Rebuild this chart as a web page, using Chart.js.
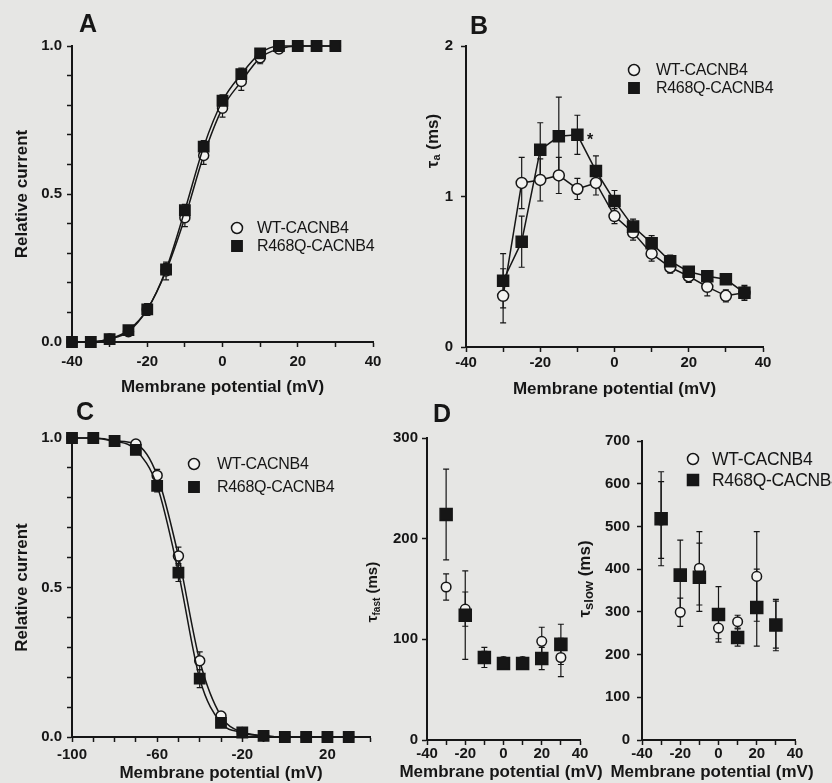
<!DOCTYPE html>
<html>
<head>
<meta charset="utf-8">
<script src="https://cdn.jsdelivr.net/npm/chart.js@4"></script>
<style>
  body { margin: 0; width: 832px; height: 783px; overflow: hidden; position: relative; background: #e6e6e4; }
  .box { position: absolute; }
  .tag { position: absolute; font: bold 25px 'Liberation Sans', Arial, sans-serif; line-height: 1; color: #161616; z-index: 5; }
</style>
</head>
<body>
<div class="box" style="left:0;top:0;width:400px;height:400px"><canvas id="chartA"></canvas></div>
<div class="box" style="left:400px;top:0;width:432px;height:400px"><canvas id="chartB"></canvas></div>
<div class="box" style="left:0;top:392px;width:400px;height:391px"><canvas id="chartC"></canvas></div>
<div class="box" style="left:360px;top:392px;width:250px;height:400px"><canvas id="chartD1"></canvas></div>
<div class="box" style="left:570px;top:392px;width:262px;height:400px"><canvas id="chartD2"></canvas></div>
<div class="tag" style="left:79px;top:11px">A</div>
<div class="tag" style="left:470px;top:13px">B</div>
<div class="tag" style="left:76px;top:399px">C</div>
<div class="tag" style="left:433px;top:401px">D</div>
<script>
// data
const aVolt = [-40, -35, -30, -25, -20, -15, -10, -5, 0, 5, 10, 15, 20, 25, 30];
const aWT = [0, 0, 0.01, 0.035, 0.11, 0.24, 0.42, 0.63, 0.79, 0.88, 0.96, 0.99, 1.0, 1.0, 1.0];
const aWTErr = [0.005, 0.005, 0.01, 0.01, 0.02, 0.03, 0.03, 0.03, 0.03, 0.03, 0.02, 0.01, 0.005, 0.005, 0.005];
const aR468Q = [0, 0, 0.01, 0.04, 0.11, 0.245, 0.445, 0.66, 0.815, 0.905, 0.975, 1.0, 1.0, 1.0, 1.0];
const aR468QErr = [0.005, 0.005, 0.005, 0.01, 0.02, 0.02, 0.02, 0.02, 0.02, 0.02, 0.01, 0.005, 0.005, 0.005, 0.005];

const bVolt = [-30, -25, -20, -15, -10, -5, 0, 5, 10, 15, 20, 25, 30, 35];
const bWT = [0.34, 1.09, 1.11, 1.14, 1.05, 1.09, 0.87, 0.76, 0.62, 0.53, 0.47, 0.40, 0.34, 0.36];
const bWTErr = [0.18, 0.17, 0.14, 0.12, 0.07, 0.08, 0.05, 0.05, 0.05, 0.04, 0.04, 0.06, 0.04, 0.04];
const bR468Q = [0.44, 0.70, 1.31, 1.40, 1.41, 1.17, 0.97, 0.80, 0.69, 0.57, 0.50, 0.47, 0.45, 0.36];
const bR468QErr = [0.18, 0.17, 0.18, 0.26, 0.13, 0.10, 0.07, 0.05, 0.05, 0.04, 0.03, 0.03, 0.03, 0.05];

const cVolt = [-100, -90, -80, -70, -60, -50, -40, -30, -20, -10, 0, 10, 20, 30];
const cWT = [1.0, 1.0, 0.99, 0.98, 0.875, 0.605, 0.255, 0.07, 0.015, 0.004, 0, 0, 0, 0];
const cWTErr = [0.005, 0.005, 0.005, 0.01, 0.02, 0.03, 0.03, 0.015, 0.005, 0.005, 0.005, 0.005, 0.005, 0.005];
const cR468Q = [1.0, 1.0, 0.99, 0.96, 0.84, 0.55, 0.195, 0.047, 0.015, 0.004, 0, 0, 0, 0];
const cR468QErr = [0.005, 0.005, 0.005, 0.01, 0.02, 0.03, 0.03, 0.015, 0.005, 0.005, 0.005, 0.005, 0.005, 0.005];

const dVolt = [-30, -20, -10, 0, 10, 20, 30];
const dFastWT = [152, 130, 83, 78, 78, 98, 82];
const dFastWTErr = [13, 17, 5, 4, 4, 14, 19];
const dFastR468Q = [224, 124, 82, 76, 76, 81, 95];
const dFastR468QErr = [45, 44, 10, 5, 5, 11, 20];
const dSlowWT = [515, 299, 402, 262, 277, 383, 270];
const dSlowWTErr = [90, 33, 86, 25, 15, 105, 55];
const dSlowR468Q = [518, 386, 381, 294, 240, 310, 269];
const dSlowR468QErr = [110, 82, 80, 65, 20, 90, 60];

const ink = '#161616';
const paper = '#f3f3f1';
const FONT = "'Liberation Sans', Arial, Helvetica, sans-serif";
Chart.defaults.font.family = FONT;
Chart.defaults.color = ink;
Chart.defaults.animation = false;

function axis(o) {
  return {
    type: 'linear', min: o.min, max: o.max,
    grid: { drawOnChartArea: false, drawTicks: true, tickLength: 5, tickWidth: 1.5, tickColor: ink },
    border: { display: true, color: ink, width: 2 },
    ticks: {
      stepSize: o.step, autoSkip: false, maxRotation: 0, padding: o.pad, color: ink,
      font: { size: 15, weight: 'bold' },
      callback: v => o.show(v) ? o.fmt(v) : ''
    },
    title: o.title
      ? { display: true, text: o.title, color: ink, font: { size: 17, weight: 'bold' }, padding: o.tpad }
      : { display: false },
    afterFit: s => { if (o.w != null) s.width = o.w; if (o.h != null) s.height = o.h; }
  };
}

function series(label, xs, ys, errs, st) {
  return Object.assign({
    label: label,
    data: xs.map((x, i) => ({ x: x, y: ys[i] })),
    errors: errs,
    borderColor: ink, borderWidth: 1.5,
    pointBorderColor: ink, pointBorderWidth: 1.5,
    clip: false
  }, st);
}
const wtStyle = (r, extra) => Object.assign({ pointStyle: 'circle', pointRadius: r, pointBackgroundColor: paper, order: 1 }, extra);
const rStyle = (r, extra) => Object.assign({ pointStyle: 'rect', pointRadius: r, pointBackgroundColor: ink, order: 0 }, extra);

// error bars through the chart scales
const errorBars = {
  id: 'errorBars',
  beforeDatasetsDraw(chart) {
    const { ctx } = chart;
    const x = chart.scales.x, y = chart.scales.y;
    ctx.save();
    ctx.strokeStyle = ink;
    ctx.lineWidth = 1.2;
    chart.data.datasets.forEach(ds => {
      if (!ds.errors) return;
      ds.data.forEach((p, j) => {
        const e = ds.errors[j];
        const px = x.getPixelForValue(p.x);
        const top = y.getPixelForValue(p.y + e), bot = y.getPixelForValue(p.y - e);
        ctx.beginPath();
        ctx.moveTo(px, top); ctx.lineTo(px, bot);
        ctx.moveTo(px - 3, top); ctx.lineTo(px + 3, top);
        ctx.moveTo(px - 3, bot); ctx.lineTo(px + 3, bot);
        ctx.stroke();
      });
    });
    ctx.restore();
  }
};

function legendAt(x, y, gap, tx, radii, size) {
  return {
    id: 'legendAt',
    afterDraw(chart) {
      const ctx = chart.ctx;
      ctx.save();
      chart.data.datasets.forEach((ds, i) => {
        const yy = y + i * gap;
        ctx.fillStyle = ds.pointBackgroundColor;
        ctx.strokeStyle = ink;
        ctx.lineWidth = 1.5;
        Chart.helpers.drawPoint(ctx, { pointStyle: ds.pointStyle, radius: radii[i], borderWidth: 1.5, rotation: 0 }, x, yy);
        ctx.fillStyle = ink;
        ctx.font = size + 'px ' + FONT;
        ctx.letterSpacing = '-0.3px';
        ctx.textBaseline = 'middle';
        ctx.fillText(ds.label, tx, yy + 1);
      });
      ctx.restore();
    }
  };
}

// free text pieces (axis titles with subscripts, asterisk)
function texts(items) {
  return {
    id: 'texts',
    afterDraw(chart) {
      const ctx = chart.ctx;
      items.forEach(it => {
        let x = it.x, y = it.y;
        if (it.vx != null) { x = chart.scales.x.getPixelForValue(it.vx); y = chart.scales.y.getPixelForValue(it.vy); }
        ctx.save();
        ctx.translate(x, y);
        if (it.rot) ctx.rotate(it.rot);
        ctx.fillStyle = ink;
        ctx.textBaseline = 'middle';
        let w = 0;
        it.parts.forEach(p => { ctx.font = p[1] + ' ' + FONT; w += ctx.measureText(p[0]).width; });
        let cx = -w / 2;
        it.parts.forEach(p => {
          ctx.font = p[1] + ' ' + FONT;
          ctx.fillText(p[0], cx, p[2] || 0);
          cx += ctx.measureText(p[0]).width;
        });
        ctx.restore();
      });
    }
  };
}

const every20 = v => v % 20 === 0;
const half = v => Math.round(v * 10) % 5 === 0;
const one = v => v.toFixed(1);
const plain = v => String(v);
const base = { responsive: true, maintainAspectRatio: false, plugins: { legend: { display: false }, tooltip: { enabled: false } } };
const up = -Math.PI / 2;

// A
new Chart(document.getElementById('chartA'), {
  type: 'scatter',
  data: { datasets: [
    series('WT-CACNB4', aVolt, aWT, aWTErr, wtStyle(5, { showLine: true, cubicInterpolationMode: 'monotone' })),
    series('R468Q-CACNB4', aVolt, aR468Q, aR468QErr, rStyle(7.3, { showLine: true, cubicInterpolationMode: 'monotone' }))
  ] },
  options: Object.assign({}, base, {
    layout: { padding: { top: 46, right: 27, left: 0, bottom: 0 } },
    scales: {
      x: axis({ min: -40, max: 40, step: 10, show: every20, fmt: plain, pad: 6, h: 58, title: 'Membrane potential (mV)', tpad: { top: 0, bottom: 2 } }),
      y: axis({ min: 0, max: 1, step: 0.1, show: half, fmt: one, pad: 5, w: 72, title: 'Relative current', tpad: { top: 12, bottom: 0 } })
    }
  }),
  plugins: [errorBars, legendAt(237, 228, 18, 257, [5.5, 7.3], 16)]
});

// B
new Chart(document.getElementById('chartB'), {
  type: 'scatter',
  data: { datasets: [
    series('WT-CACNB4', bVolt, bWT, bWTErr, wtStyle(5.5, { showLine: true })),
    series('R468Q-CACNB4', bVolt, bR468Q, bR468QErr, rStyle(7.8, { showLine: true }))
  ] },
  options: Object.assign({}, base, {
    layout: { padding: { top: 46, right: 69, left: 0, bottom: 0 } },
    scales: {
      x: axis({ min: -40, max: 40, step: 10, show: every20, fmt: plain, pad: 2, h: 53, title: 'Membrane potential (mV)', tpad: { top: 0, bottom: 0 } }),
      y: axis({ min: 0, max: 2, step: 1, show: () => true, fmt: plain, pad: 8, w: 66 })
    }
  }),
  plugins: [errorBars, legendAt(234, 70, 18, 256, [5.5, 7.3], 16)]
    .concat([texts([
      { x: 33, y: 141, rot: up, parts: [['τ', 'bold 17px'], ['a', 'bold 11px', 4], [' (ms)', 'bold 17px']] },
      { vx: -6.6, vy: 1.37, parts: [['*', 'bold 16px']] }
    ])])
});

// C
new Chart(document.getElementById('chartC'), {
  type: 'scatter',
  data: { datasets: [
    series('WT-CACNB4', cVolt, cWT, cWTErr, wtStyle(5, { showLine: true, cubicInterpolationMode: 'monotone' })),
    series('R468Q-CACNB4', cVolt, cR468Q, cR468QErr, rStyle(7.3, { showLine: true, cubicInterpolationMode: 'monotone' }))
  ] },
  options: Object.assign({}, base, {
    layout: { padding: { top: 46, right: 30, left: 0, bottom: 0 } },
    scales: {
      x: axis({ min: -100, max: 40, step: 10, show: v => (v + 100) % 40 === 0, fmt: plain, pad: 4, h: 46, title: 'Membrane potential (mV)', tpad: { top: 0, bottom: -1 } }),
      y: axis({ min: 0, max: 1, step: 0.1, show: half, fmt: one, pad: 5, w: 72, title: 'Relative current', tpad: { top: 12, bottom: 0 } })
    }
  }),
  plugins: [errorBars, legendAt(194, 72, 23, 217, [5.5, 7.3], 16)]
});

// D, fast component
new Chart(document.getElementById('chartD1'), {
  type: 'scatter',
  data: { datasets: [
    series('WT-CACNB4', dVolt, dFastWT, dFastWTErr, wtStyle(4.8, { showLine: false })),
    series('R468Q-CACNB4', dVolt, dFastR468Q, dFastR468QErr, rStyle(8.5, { showLine: false }))
  ] },
  options: Object.assign({}, base, {
    layout: { padding: { top: 46, right: 30, left: 0, bottom: 0 } },
    scales: {
      x: axis({ min: -40, max: 40, step: 10, show: every20, fmt: plain, pad: 0, h: 52 }),
      y: axis({ min: 0, max: 300, step: 100, show: () => true, fmt: plain, pad: 4, w: 67 })
    }
  }),
  plugins: [errorBars, texts([
    { x: 13, y: 200, rot: up, parts: [['τ', 'bold 15px'], ['fast', 'bold 10px', 4], [' (ms)', 'bold 15px']] },
    { x: 141, y: 380, parts: [['Membrane potential (mV)', 'bold 17px']] }
  ])]
});

// D, slow component
new Chart(document.getElementById('chartD2'), {
  type: 'scatter',
  data: { datasets: [
    series('WT-CACNB4', dVolt, dSlowWT, dSlowWTErr, wtStyle(4.8, { showLine: false })),
    series('R468Q-CACNB4', dVolt, dSlowR468Q, dSlowR468QErr, rStyle(8.5, { showLine: false }))
  ] },
  options: Object.assign({}, base, {
    layout: { padding: { top: 49, right: 37, left: 0, bottom: 0 } },
    scales: {
      x: axis({ min: -40, max: 40, step: 10, show: every20, fmt: plain, pad: 0, h: 52 }),
      y: axis({ min: 0, max: 700, step: 100, show: () => true, fmt: plain, pad: 7, w: 72 })
    }
  }),
  plugins: [errorBars, legendAt(123, 67, 21, 142, [5.5, 7.8], 17.5), texts([
    { x: 15, y: 187, rot: up, parts: [['τ', 'bold 17px'], ['slow', 'bold 13px', 4], [' (ms)', 'bold 17px']] },
    { x: 142, y: 380, parts: [['Membrane potential (mV)', 'bold 17px']] }
  ])]
});
</script>
</body>
</html>
